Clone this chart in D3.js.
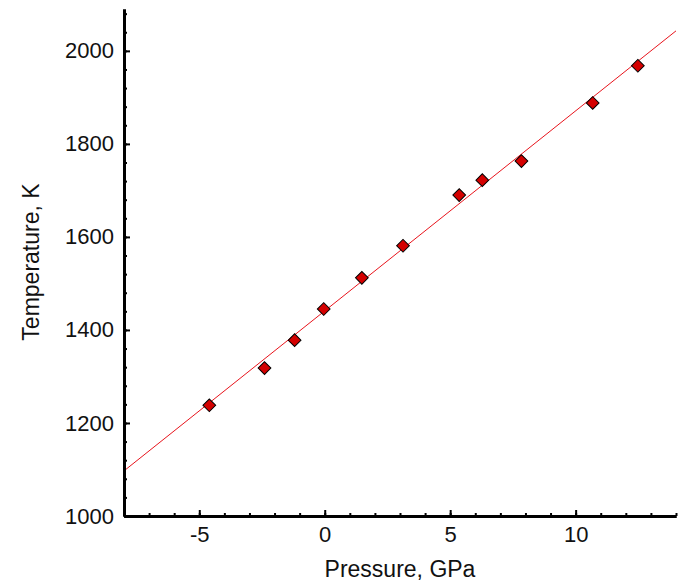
<!DOCTYPE html>
<html><head><meta charset="utf-8">
<script src="https://cdn.jsdelivr.net/npm/d3@7"></script>
<style>body{margin:0;background:#fff}svg{display:block}</style>
</head><body>
<script>
const pressure = [-4.6, -2.4, -1.2, -0.04, 1.48, 3.12, 5.36, 6.28, 7.84, 10.68, 12.48];
const temperature = [1238, 1318, 1378, 1445, 1512, 1581, 1690, 1722, 1763, 1888, 1968];
const fitP = [-8, 14];
const fitT = [1097, 2043];
const xTicks = [-5, 0, 5, 10];
const xTickLabels = ["-5", "0", "5", "10"];
const yTicks = [1000, 1200, 1400, 1600, 1800, 2000];
const xMinor = d3.range(-8, 14.01, 1);
const yMinor = d3.range(1000, 2090, 40);

const W = 679, H = 581;
const svg = d3.select("body").append("svg").attr("width", W).attr("height", H);
const x = d3.scaleLinear().domain([-8, 14]).range([124, 676]);
const y = d3.scaleLinear().domain([1000, 2090]).range([516, 9]);
const font = "Liberation Sans, Arial, sans-serif";

// fit line
svg.append("line")
  .attr("x1", x(fitP[0])).attr("y1", y(fitT[0]))
  .attr("x2", x(fitP[1])).attr("y2", y(fitT[1]))
  .attr("stroke", "#e8141c").attr("stroke-width", 1);

// axes
const gx = svg.append("g").attr("transform", `translate(0,${y(1000)})`);
gx.call(d3.axisBottom(x).tickValues(xMinor).tickSizeInner(-3).tickSizeOuter(0).tickFormat(""));
gx.append("g").call(d3.axisBottom(x).tickValues(xTicks).tickSizeInner(-6).tickSizeOuter(0).tickPadding(9)
  .tickFormat((d, i) => xTickLabels[i]));
const gy = svg.append("g").attr("transform", `translate(${x(-8)},0)`);
gy.call(d3.axisLeft(y).tickValues(yMinor).tickSizeInner(-3).tickSizeOuter(0).tickFormat(""));
gy.append("g").call(d3.axisLeft(y).tickValues(yTicks).tickSizeInner(-6).tickSizeOuter(0).tickPadding(10).tickFormat(d3.format("d")));

svg.selectAll(".domain").attr("stroke", "#000").attr("stroke-width", 3);
svg.selectAll(".tick line").attr("stroke", "#000").attr("stroke-width", 2);
svg.selectAll(".tick text").attr("font-family", font).attr("font-size", 22).attr("fill", "#111");
gx.selectAll(".tick text").attr("dy", "0.76em");

// data points
svg.append("g").selectAll("path").data(pressure).join("path")
  .attr("d", d3.symbol().type(d3.symbolSquare).size(81))
  .attr("transform", (d, i) => `translate(${x(d)},${y(temperature[i])}) rotate(45)`)
  .attr("fill", "#d40000").attr("stroke", "#000").attr("stroke-width", 1);

// titles
svg.append("text").attr("x", 400).attr("y", 577).attr("text-anchor", "middle")
  .attr("font-family", font).attr("font-size", 23).attr("fill", "#111").text("Pressure, GPa");
svg.append("text").attr("transform", "translate(39,262) rotate(-90)").attr("text-anchor", "middle")
  .attr("font-family", font).attr("font-size", 23).attr("fill", "#111").text("Temperature, K");
</script>
</body></html>
